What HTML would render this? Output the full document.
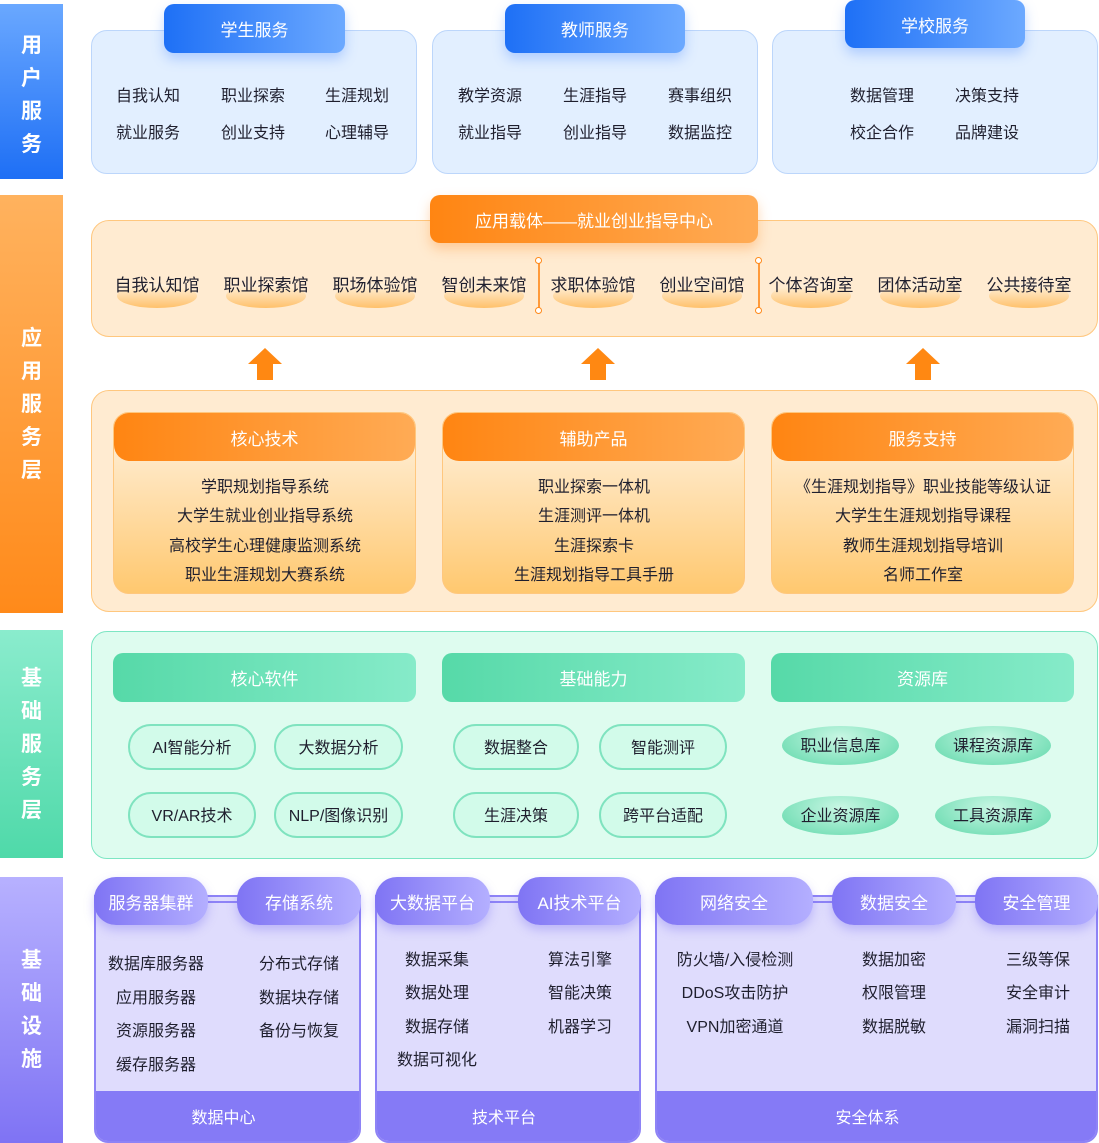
<!DOCTYPE html>
<html><head><meta charset="utf-8"><style>
*{margin:0;padding:0;box-sizing:border-box}
body{width:1099px;height:1143px;position:relative;background:#fff;font-family:"Liberation Sans","Noto Sans CJK SC",sans-serif;color:#1f1f2e;overflow:hidden}
.a{position:absolute}
.side{position:absolute;left:0;width:63px;color:#fff;font-size:21px;font-weight:bold;display:flex;flex-direction:column;align-items:center;justify-content:center;line-height:33px}
.t{position:absolute;font-size:16px;white-space:nowrap;transform:translate(-50%,-3px)}
.hd{position:absolute;color:#fff;font-size:17px;display:flex;align-items:center;justify-content:center}
.ctr{display:flex;align-items:center;justify-content:center}
</style></head><body>

<!-- sidebars -->
<div class="side" style="top:4px;height:175px;background:linear-gradient(#6aa8ff,#1e6ff5);padding-top:6px">用<br>户<br>服<br>务</div>
<div class="side" style="top:195px;height:418px;background:linear-gradient(#ffb25e,#ff8a1a)">应<br>用<br>服<br>务<br>层</div>
<div class="side" style="top:630px;height:228px;background:linear-gradient(#8aeccd,#4fd9a9)">基<br>础<br>服<br>务<br>层</div>
<div class="side" style="top:877px;height:266px;background:linear-gradient(#b7b1ff,#7f73f4)">基<br>础<br>设<br>施</div>

<!-- user service -->
<div class="a" style="left:91px;top:30px;width:326px;height:144px;background:#e2efff;border:1.5px solid #bcd6fb;border-radius:16px"></div>
<div class="a" style="left:432px;top:30px;width:326px;height:144px;background:#e2efff;border:1.5px solid #bcd6fb;border-radius:16px"></div>
<div class="a" style="left:772px;top:30px;width:326px;height:144px;background:#e2efff;border:1.5px solid #bcd6fb;border-radius:16px"></div>
<div class="hd" style="left:164px;top:4px;width:181px;height:49px;border-radius:10px;background:linear-gradient(90deg,#1e70f6,#6ca9ff);box-shadow:0 6px 12px rgba(80,140,255,.35)">学生服务</div>
<div class="hd" style="left:505px;top:4px;width:180px;height:49px;border-radius:10px;background:linear-gradient(90deg,#1e70f6,#6ca9ff);box-shadow:0 6px 12px rgba(80,140,255,.35)">教师服务</div>
<div class="hd" style="left:845px;top:0px;width:180px;height:48px;border-radius:10px;background:linear-gradient(90deg,#1e70f6,#6ca9ff);box-shadow:0 6px 12px rgba(80,140,255,.35)">学校服务</div>
<div class="t" style="left:148px;top:85px">自我认知</div><div class="t" style="left:253px;top:85px">职业探索</div><div class="t" style="left:357px;top:85px">生涯规划</div>
<div class="t" style="left:148px;top:122px">就业服务</div><div class="t" style="left:253px;top:122px">创业支持</div><div class="t" style="left:357px;top:122px">心理辅导</div>
<div class="t" style="left:490px;top:85px">教学资源</div><div class="t" style="left:595px;top:85px">生涯指导</div><div class="t" style="left:700px;top:85px">赛事组织</div>
<div class="t" style="left:490px;top:122px">就业指导</div><div class="t" style="left:595px;top:122px">创业指导</div><div class="t" style="left:700px;top:122px">数据监控</div>
<div class="t" style="left:882px;top:85px">数据管理</div><div class="t" style="left:987px;top:85px">决策支持</div>
<div class="t" style="left:882px;top:122px">校企合作</div><div class="t" style="left:987px;top:122px">品牌建设</div>

<!-- app carrier -->
<div class="a" style="left:91px;top:220px;width:1007px;height:117px;background:#ffebd1;border:1.5px solid #ffc77e;border-radius:18px"></div>
<div class="hd" style="left:430px;top:195px;width:328px;height:48px;border-radius:10px;background:linear-gradient(90deg,#ff8512,#ffab55);box-shadow:0 6px 12px rgba(255,140,40,.35)">应用载体——就业创业指导中心</div>
<div class="a" style="left:538px;top:262px;width:2px;height:48px;background:#ff9a3a"></div>
<div class="a" style="left:535px;top:257px;width:7px;height:7px;border:1.5px solid #ff8a1a;border-radius:50%;background:#fff"></div>
<div class="a" style="left:535px;top:307px;width:7px;height:7px;border:1.5px solid #ff8a1a;border-radius:50%;background:#fff"></div>
<div class="a" style="left:758px;top:262px;width:2px;height:48px;background:#ff9a3a"></div>
<div class="a" style="left:755px;top:257px;width:7px;height:7px;border:1.5px solid #ff8a1a;border-radius:50%;background:#fff"></div>
<div class="a" style="left:755px;top:307px;width:7px;height:7px;border:1.5px solid #ff8a1a;border-radius:50%;background:#fff"></div>
<div class="a" style="left:117px;top:284px;width:80px;height:24px;border-radius:50%;background:linear-gradient(#fff3e0,#ffc16b)"></div>
<div class="a" style="left:226px;top:284px;width:80px;height:24px;border-radius:50%;background:linear-gradient(#fff3e0,#ffc16b)"></div>
<div class="a" style="left:335px;top:284px;width:80px;height:24px;border-radius:50%;background:linear-gradient(#fff3e0,#ffc16b)"></div>
<div class="a" style="left:444px;top:284px;width:80px;height:24px;border-radius:50%;background:linear-gradient(#fff3e0,#ffc16b)"></div>
<div class="a" style="left:553px;top:284px;width:80px;height:24px;border-radius:50%;background:linear-gradient(#fff3e0,#ffc16b)"></div>
<div class="a" style="left:662px;top:284px;width:80px;height:24px;border-radius:50%;background:linear-gradient(#fff3e0,#ffc16b)"></div>
<div class="a" style="left:771px;top:284px;width:80px;height:24px;border-radius:50%;background:linear-gradient(#fff3e0,#ffc16b)"></div>
<div class="a" style="left:880px;top:284px;width:80px;height:24px;border-radius:50%;background:linear-gradient(#fff3e0,#ffc16b)"></div>
<div class="a" style="left:989px;top:284px;width:80px;height:24px;border-radius:50%;background:linear-gradient(#fff3e0,#ffc16b)"></div>
<div class="t" style="left:157px;top:274px;font-size:17px">自我认知馆</div>
<div class="t" style="left:266px;top:274px;font-size:17px">职业探索馆</div>
<div class="t" style="left:375px;top:274px;font-size:17px">职场体验馆</div>
<div class="t" style="left:484px;top:274px;font-size:17px">智创未来馆</div>
<div class="t" style="left:593px;top:274px;font-size:17px">求职体验馆</div>
<div class="t" style="left:702px;top:274px;font-size:17px">创业空间馆</div>
<div class="t" style="left:811px;top:274px;font-size:17px">个体咨询室</div>
<div class="t" style="left:920px;top:274px;font-size:17px">团体活动室</div>
<div class="t" style="left:1029px;top:274px;font-size:17px">公共接待室</div>

<!-- arrows -->
<svg class="a" style="left:0;top:0" width="1099" height="400">
<g fill="#ff8812">
<path d="M265 348 L282 364 L273 364 L273 380 L257 380 L257 364 L248 364Z"/>
<path d="M598 348 L615 364 L606 364 L606 380 L590 380 L590 364 L581 364Z"/>
<path d="M923 348 L940 364 L931 364 L931 380 L915 380 L915 364 L906 364Z"/>
</g></svg>

<!-- app cards -->
<div class="a" style="left:91px;top:390px;width:1007px;height:222px;background:#ffebd1;border:1.5px solid #ffc77e;border-radius:18px"></div>
<div class="a" style="left:113px;top:412px;width:303px;height:182px;border-radius:16px;border:1px solid #ffc77e;background:linear-gradient(#fff3e3,#ffc86f);overflow:hidden"><div class="hd" style="left:0;top:0;width:100%;height:48px;border-radius:0 0 16px 16px;background:linear-gradient(90deg,#ff8512,#ffab55)">核心技术</div></div>
<div class="a" style="left:442px;top:412px;width:303px;height:182px;border-radius:16px;border:1px solid #ffc77e;background:linear-gradient(#fff3e3,#ffc86f);overflow:hidden"><div class="hd" style="left:0;top:0;width:100%;height:48px;border-radius:0 0 16px 16px;background:linear-gradient(90deg,#ff8512,#ffab55)">辅助产品</div></div>
<div class="a" style="left:771px;top:412px;width:303px;height:182px;border-radius:16px;border:1px solid #ffc77e;background:linear-gradient(#fff3e3,#ffc86f);overflow:hidden"><div class="hd" style="left:0;top:0;width:100%;height:48px;border-radius:0 0 16px 16px;background:linear-gradient(90deg,#ff8512,#ffab55)">服务支持</div></div>
<div class="t" style="left:265px;top:476px">学职规划指导系统</div>
<div class="t" style="left:265px;top:505px">大学生就业创业指导系统</div>
<div class="t" style="left:265px;top:535px">高校学生心理健康监测系统</div>
<div class="t" style="left:265px;top:564px">职业生涯规划大赛系统</div>
<div class="t" style="left:594px;top:476px">职业探索一体机</div>
<div class="t" style="left:594px;top:505px">生涯测评一体机</div>
<div class="t" style="left:594px;top:535px">生涯探索卡</div>
<div class="t" style="left:594px;top:564px">生涯规划指导工具手册</div>
<div class="t" style="left:923px;top:476px">《生涯规划指导》职业技能等级认证</div>
<div class="t" style="left:923px;top:505px">大学生生涯规划指导课程</div>
<div class="t" style="left:923px;top:535px">教师生涯规划指导培训</div>
<div class="t" style="left:923px;top:564px">名师工作室</div>

<!-- base service -->
<div class="a" style="left:91px;top:631px;width:1007px;height:228px;background:#defcef;border:1.5px solid #7de6c3;border-radius:16px"></div>
<div class="hd" style="left:113px;top:653px;width:303px;height:49px;border-radius:10px;background:linear-gradient(90deg,#56d9a8,#86ebc9)">核心软件</div>
<div class="hd" style="left:442px;top:653px;width:303px;height:49px;border-radius:10px;background:linear-gradient(90deg,#56d9a8,#86ebc9)">基础能力</div>
<div class="hd" style="left:771px;top:653px;width:303px;height:49px;border-radius:10px;background:linear-gradient(90deg,#56d9a8,#86ebc9)">资源库</div>
<div class="a ctr" style="left:128px;top:724px;width:128px;height:46px;border:2px solid #7fe3bf;border-radius:23px;background:#d2fbea;font-size:16px;padding-bottom:3px">AI智能分析</div>
<div class="a ctr" style="left:274px;top:724px;width:129px;height:46px;border:2px solid #7fe3bf;border-radius:23px;background:#d2fbea;font-size:16px;padding-bottom:3px">大数据分析</div>
<div class="a ctr" style="left:128px;top:792px;width:128px;height:46px;border:2px solid #7fe3bf;border-radius:23px;background:#d2fbea;font-size:16px;padding-bottom:3px">VR/AR技术</div>
<div class="a ctr" style="left:274px;top:792px;width:129px;height:46px;border:2px solid #7fe3bf;border-radius:23px;background:#d2fbea;font-size:16px;padding-bottom:3px">NLP/图像识别</div>
<div class="a ctr" style="left:453px;top:724px;width:126px;height:46px;border:2px solid #7fe3bf;border-radius:23px;background:#d2fbea;font-size:16px;padding-bottom:3px">数据整合</div>
<div class="a ctr" style="left:599px;top:724px;width:128px;height:46px;border:2px solid #7fe3bf;border-radius:23px;background:#d2fbea;font-size:16px;padding-bottom:3px">智能测评</div>
<div class="a ctr" style="left:453px;top:792px;width:126px;height:46px;border:2px solid #7fe3bf;border-radius:23px;background:#d2fbea;font-size:16px;padding-bottom:3px">生涯决策</div>
<div class="a ctr" style="left:599px;top:792px;width:128px;height:46px;border:2px solid #7fe3bf;border-radius:23px;background:#d2fbea;font-size:16px;padding-bottom:3px">跨平台适配</div>
<div class="a ctr" style="left:782px;top:726px;width:117px;height:39px;border-radius:50%;background:radial-gradient(ellipse at 50% 30%,#c9f7e4,#5fd8aa);font-size:16px;padding-bottom:3px">职业信息库</div>
<div class="a ctr" style="left:935px;top:726px;width:116px;height:39px;border-radius:50%;background:radial-gradient(ellipse at 50% 30%,#c9f7e4,#5fd8aa);font-size:16px;padding-bottom:3px">课程资源库</div>
<div class="a ctr" style="left:782px;top:796px;width:117px;height:39px;border-radius:50%;background:radial-gradient(ellipse at 50% 30%,#c9f7e4,#5fd8aa);font-size:16px;padding-bottom:3px">企业资源库</div>
<div class="a ctr" style="left:935px;top:796px;width:116px;height:39px;border-radius:50%;background:radial-gradient(ellipse at 50% 30%,#c9f7e4,#5fd8aa);font-size:16px;padding-bottom:3px">工具资源库</div>

<!-- infra -->
<div class="a" style="left:94px;top:895px;width:267px;height:248px;border:2px solid #8e83f6;border-radius:0 0 14px 14px;background:#dfdcfd;overflow:hidden"><div class="a ctr" style="left:0;bottom:0;width:100%;height:50px;background:#857af6;color:#fff;font-size:16px;padding-right:8px">数据中心</div></div>
<div class="a" style="left:375px;top:895px;width:266px;height:248px;border:2px solid #8e83f6;border-radius:0 0 14px 14px;background:#dfdcfd;overflow:hidden"><div class="a ctr" style="left:0;bottom:0;width:100%;height:50px;background:#857af6;color:#fff;font-size:16px;padding-right:8px">技术平台</div></div>
<div class="a" style="left:655px;top:895px;width:443px;height:248px;border:2px solid #8e83f6;border-radius:0 0 14px 14px;background:#dfdcfd;overflow:hidden"><div class="a ctr" style="left:0;bottom:0;width:100%;height:50px;background:#857af6;color:#fff;font-size:16px;padding-right:18px">安全体系</div></div>
<div class="a" style="left:200px;top:901px;width:45px;height:2px;background:#8e83f6"></div>
<div class="a" style="left:465px;top:901px;width:60px;height:2px;background:#8e83f6"></div>
<div class="a" style="left:805px;top:901px;width:30px;height:2px;background:#8e83f6"></div>
<div class="a" style="left:950px;top:901px;width:30px;height:2px;background:#8e83f6"></div>
<div class="hd" style="left:94px;top:877px;width:114px;height:48px;border-radius:22px;background:linear-gradient(90deg,#7f74f4,#b4afff);box-shadow:0 5px 10px rgba(120,110,240,.35)">服务器集群</div>
<div class="hd" style="left:237px;top:877px;width:124px;height:48px;border-radius:22px;background:linear-gradient(90deg,#7f74f4,#b4afff);box-shadow:0 5px 10px rgba(120,110,240,.35)">存储系统</div>
<div class="hd" style="left:375px;top:877px;width:115px;height:48px;border-radius:22px;background:linear-gradient(90deg,#7f74f4,#b4afff);box-shadow:0 5px 10px rgba(120,110,240,.35)">大数据平台</div>
<div class="hd" style="left:518px;top:877px;width:123px;height:48px;border-radius:22px;background:linear-gradient(90deg,#7f74f4,#b4afff);box-shadow:0 5px 10px rgba(120,110,240,.35)">AI技术平台</div>
<div class="hd" style="left:655px;top:877px;width:158px;height:48px;border-radius:22px;background:linear-gradient(90deg,#7f74f4,#b4afff);box-shadow:0 5px 10px rgba(120,110,240,.35)">网络安全</div>
<div class="hd" style="left:832px;top:877px;width:124px;height:48px;border-radius:22px;background:linear-gradient(90deg,#7f74f4,#b4afff);box-shadow:0 5px 10px rgba(120,110,240,.35)">数据安全</div>
<div class="hd" style="left:975px;top:877px;width:123px;height:48px;border-radius:22px;background:linear-gradient(90deg,#7f74f4,#b4afff);box-shadow:0 5px 10px rgba(120,110,240,.35)">安全管理</div>

<div class="t" style="left:156px;top:953px">数据库服务器</div>
<div class="t" style="left:156px;top:987px">应用服务器</div>
<div class="t" style="left:156px;top:1020px">资源服务器</div>
<div class="t" style="left:156px;top:1054px">缓存服务器</div>
<div class="t" style="left:299px;top:953px">分布式存储</div>
<div class="t" style="left:299px;top:987px">数据块存储</div>
<div class="t" style="left:299px;top:1020px">备份与恢复</div>
<div class="t" style="left:437px;top:949px">数据采集</div>
<div class="t" style="left:437px;top:982px">数据处理</div>
<div class="t" style="left:437px;top:1016px">数据存储</div>
<div class="t" style="left:437px;top:1049px">数据可视化</div>
<div class="t" style="left:580px;top:949px">算法引擎</div>
<div class="t" style="left:580px;top:982px">智能决策</div>
<div class="t" style="left:580px;top:1016px">机器学习</div>
<div class="t" style="left:735px;top:949px">防火墙/入侵检测</div>
<div class="t" style="left:735px;top:982px">DDoS攻击防护</div>
<div class="t" style="left:735px;top:1016px">VPN加密通道</div>
<div class="t" style="left:894px;top:949px">数据加密</div>
<div class="t" style="left:894px;top:982px">权限管理</div>
<div class="t" style="left:894px;top:1016px">数据脱敏</div>
<div class="t" style="left:1038px;top:949px">三级等保</div>
<div class="t" style="left:1038px;top:982px">安全审计</div>
<div class="t" style="left:1038px;top:1016px">漏洞扫描</div>
</body></html>
